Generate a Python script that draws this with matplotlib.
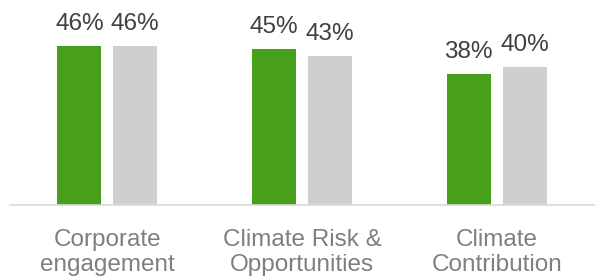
import numpy as np
import matplotlib.pyplot as plt

categories = ["Corporate\nengagement", "Climate Risk &\nOpportunities", "Climate\nContribution"]
green_vals = [46, 45, 38]
gray_vals = [46, 43, 40]

plt.rcParams['font.family'] = ['Liberation Sans', 'DejaVu Sans']

fig = plt.figure(figsize=(6, 2.8), dpi=100)
ax = fig.add_axes([10 / 600, 75 / 280, 584 / 600, 205 / 280])

x = np.arange(len(categories))
w = 0.225
off = 0.1436
b1 = ax.bar(x - off, green_vals, w, color="#48A01A")
b2 = ax.bar(x + off, gray_vals, w, color="#D0CECE")

for bars, vals in [(b1, green_vals), (b2, gray_vals)]:
    for b, v in zip(bars, vals):
        ax.annotate(f"{v}%", (b.get_x() + b.get_width() / 2, v),
                    xytext=(0, 11.5), textcoords="offset points",
                    ha="center", va="baseline", fontsize=17.5, color="#404040")

ax.set_xlim(-0.5, 2.5)
ax.set_ylim(0, 59.3)
ax.set_yticks([])
ax.set_xticks(x)
ax.set_xticklabels(categories, fontsize=17.5, color="#7F7F7F", linespacing=1.2)
ax.tick_params(axis="x", length=0, pad=17)
for s in ["top", "right", "left"]:
    ax.spines[s].set_visible(False)
ax.spines["bottom"].set_color("#D9D9D9")
ax.spines["bottom"].set_linewidth(1.2)

fig.savefig("out.png", dpi=100)
